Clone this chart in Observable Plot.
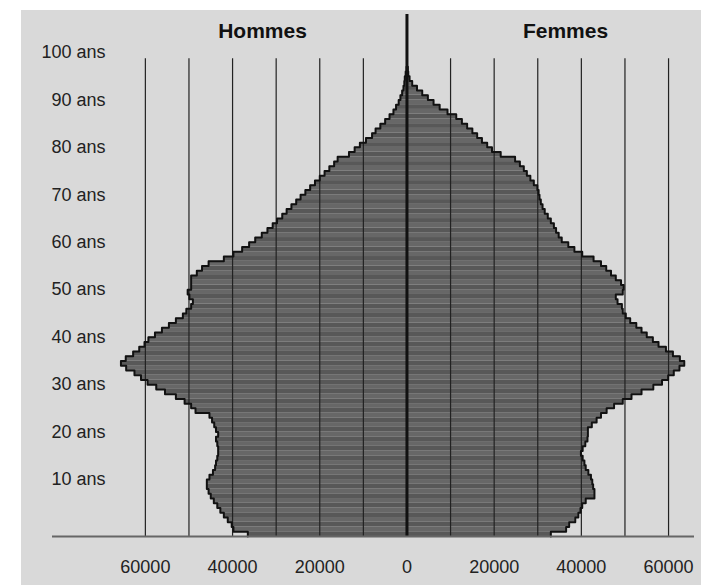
<!DOCTYPE html>
<html><head><meta charset="utf-8">
<script src="https://cdn.jsdelivr.net/npm/d3@7"></script>
<script src="https://cdn.jsdelivr.net/npm/@observablehq/plot@0.6"></script>
<style>
html,body{margin:0;padding:0;background:#fff;}
#chart{position:absolute;left:21px;top:10px;width:680px;height:575px;background:#d9d9d9;}
</style></head><body><div id="chart"></div>
<script>
const ageTicks = [10, 20, 30, 40, 50, 60, 70, 80, 90, 100];
const xTicks = [-60000, -40000, -20000, 0, 20000, 40000, 60000];
const gridValues = [-60000, -50000, -40000, -30000, -20000, -10000, 10000, 20000, 30000, 40000, 50000, 60000];
const sideLabels = ["Hommes", "Femmes"];

// Effectifs par âge (0 à 98 ans)
const hommes = [
  36500, 39800, 40200, 41100, 42000, 42800, 43500, 44300, 45000, 45500,
  45900, 45900, 45300, 44500, 44000, 43800, 43500, 43300, 43300, 43500,
  43800, 43300, 43800, 44200, 44700, 45300, 48500, 49500, 51000, 53000,
  55500, 57500, 59500, 61000, 62500, 64400, 65600, 64500, 62800, 61400,
  60200, 59300, 57800, 56200, 54600, 53000, 51400, 50600, 49500, 49100,
  49900, 50300, 49500, 49500, 49500, 48200, 47000, 45500, 42000, 39800,
  37800, 36200, 34800, 33300, 32000, 30800, 29800, 28600, 27600, 26500,
  25400, 24400, 23300, 22200, 21100, 20000, 18900, 17800, 16700, 15900,
  13300, 12000, 10800, 9400, 8000, 7200, 6100, 5000, 4000, 3100,
  2500, 1900, 1500, 1100, 800, 600, 500, 300, 100
];
const femmes = [
  33000, 36500, 37200, 38600, 39300, 39800, 40200, 41000, 43000, 43000,
  42700, 42500, 42200, 41600, 41000, 40700, 40300, 39900, 40300, 40900,
  41400, 41500, 41500, 42400, 43500, 44500, 45800, 47500, 49500, 51500,
  53800, 56500, 58500, 59900, 61200, 62500, 63600, 62600, 61000, 59400,
  57700, 56400, 55000, 53800, 52600, 51200, 50200, 49500, 49300, 48300,
  47900, 49500, 49700, 49100, 47900, 46800, 45700, 44500, 42800, 40200,
  38400, 37000, 35500, 34800, 34200, 33700, 33000, 32300, 31600, 31100,
  30700, 30400, 30200, 29900, 29100, 28300, 27500, 26800, 25900, 24800,
  21500, 19500, 18400, 17200, 16100, 15000, 13800, 12600, 11300, 9300,
  7500, 6100, 4800, 3500, 2300, 1200, 600, 300, 200
];

const rows = [];
hommes.forEach((v, a) => rows.push({sexe: "H", age: a, x1: 0, x2: -v}));
femmes.forEach((v, a) => rows.push({sexe: "F", age: a, x1: 0, x2: v}));

function outline(vals, sign) {
  const pts = [];
  vals.forEach((v, a) => { pts.push({x: sign * v, y: a}); pts.push({x: sign * v, y: a + 1}); });
  pts.push({x: 0, y: vals.length});
  return pts;
}

const font = "'Liberation Sans', Arial, Helvetica, sans-serif";

const chart = Plot.plot({
  width: 680, height: 575,
  marginLeft: 31, marginRight: 7, marginTop: 4, marginBottom: 49,
  x: {domain: [-81300, 65950]},
  y: {domain: [0, 110]},
  style: {background: "transparent", fontFamily: font, fontSize: "18px", color: "#222"},
  marks: [
    Plot.rect(rows, {x1: "x1", x2: "x2", y1: "age", y2: d => d.age + 1, fill: d => d.age % 2 ? "#676767" : "#585858"}),
    Plot.ruleX(gridValues, {y1: 0, y2: 100.7, stroke: "#222", strokeWidth: 1.2}),
    Plot.line(outline(hommes, -1), {x: "x", y: "y", stroke: "#111", strokeWidth: 2}),
    Plot.line(outline(femmes, 1), {x: "x", y: "y", stroke: "#111", strokeWidth: 2}),
    Plot.ruleX([0], {y1: 0, y2: 110, stroke: "#111", strokeWidth: 3}),
    Plot.ruleY([0], {stroke: "#666", strokeWidth: 2}),
    Plot.axisY({ticks: ageTicks, anchor: "left", tickSize: 0, tickPadding: 0, dx: 53, dy: -9.5, fontSize: 18, fill: "#222", tickFormat: d => `${d} ans`}),
    Plot.axisX({ticks: xTicks, anchor: "bottom", tickSize: 0, tickPadding: 24, fontSize: 18, fill: "#222", tickFormat: d => String(Math.abs(d))}),
    Plot.text([sideLabels[0]], {frameAnchor: "top", lineAnchor: "middle", dx: -111, dy: 17, fontSize: 21, fontWeight: "bold", fill: "#111"}),
    Plot.text([sideLabels[1]], {frameAnchor: "top", lineAnchor: "middle", dx: 192, dy: 17, fontSize: 21, fontWeight: "bold", fill: "#111"})
  ]
});
document.getElementById("chart").appendChild(chart);
</script></body></html>
